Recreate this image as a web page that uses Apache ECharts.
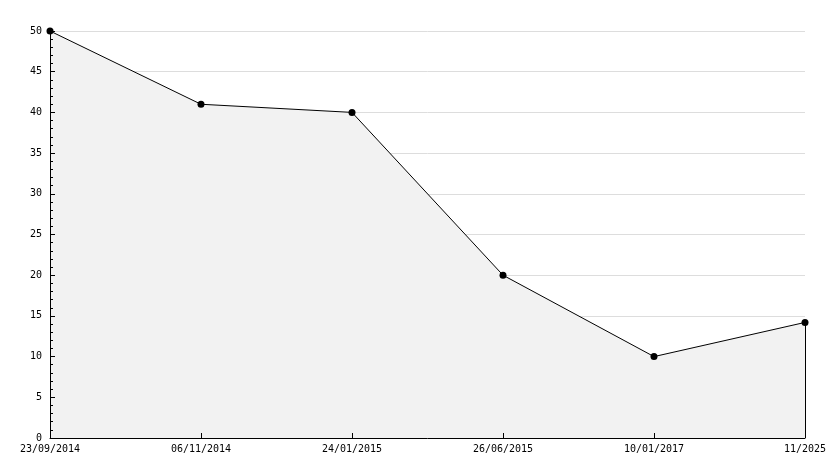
<!DOCTYPE html>
<html><head><meta charset="utf-8">
<script src="https://cdn.jsdelivr.net/npm/echarts@6/dist/echarts.min.js"></script>
<style>html,body{margin:0;padding:0;background:#fff}#c{width:834px;height:468px}</style>
</head><body><div id="c"></div>
<script>
const categories = ['23/09/2014','06/11/2014','24/01/2015','26/06/2015','10/01/2017','11/2025'];
const values = [50, 41, 40, 20, 10, 14.2];
const yTicks = [0, 50, 5];

const chart = echarts.init(document.getElementById('c'), null, {renderer:'canvas'});
const font = {fontFamily:'DejaVu Sans Mono', fontSize:10, color:'#000'};
const last = categories.length - 1;
const yBase = {type:'value', min:yTicks[0], max:yTicks[1], interval:yTicks[2]};
chart.setOption({
  animation:false,
  backgroundColor:'#fff',
  grid:{left:50, right:29, top:31, bottom:30, containLabel:false},
  xAxis:[{
    type:'category', data:categories, boundaryGap:false, z:10,
    axisLine:{lineStyle:{color:'#000', width:1}},
    axisTick:{inside:true, length:5, alignWithLabel:true, lineStyle:{color:'#000'}},
    axisLabel:Object.assign({margin:6, interval:0}, font),
    splitLine:{show:false}
  }],
  yAxis:[
    Object.assign({}, yBase, {
      z:0,
      axisLine:{show:false}, axisTick:{show:false}, axisLabel:{show:false},
      splitLine:{show:true, lineStyle:{color:'#dddddd', width:1}}
    }),
    Object.assign({}, yBase, {
      position:'left', z:10,
      axisLine:{show:true, onZero:false, lineStyle:{color:'#000', width:1}},
      axisTick:{show:true, inside:true, length:5, lineStyle:{color:'#000'}},
      minorTick:{show:true, splitNumber:5, length:3, lineStyle:{color:'#000'}},
      axisLabel:Object.assign({margin:8}, font),
      splitLine:{show:false}
    })
  ],
  series:[{
    type:'line', data:values, yAxisIndex:0, z:5,
    symbol:'circle', symbolSize:7,
    itemStyle:{color:'#000'},
    lineStyle:{color:'#000', width:1},
    areaStyle:{color:'#f2f2f2', opacity:1},
    markLine:{
      silent:true, symbol:'none', label:{show:false},
      lineStyle:{color:'#000', width:1, type:'solid'},
      data:[[{coord:[last, 0]},{coord:[last, values[last]]}]]
    }
  }]
});
</script></body></html>
